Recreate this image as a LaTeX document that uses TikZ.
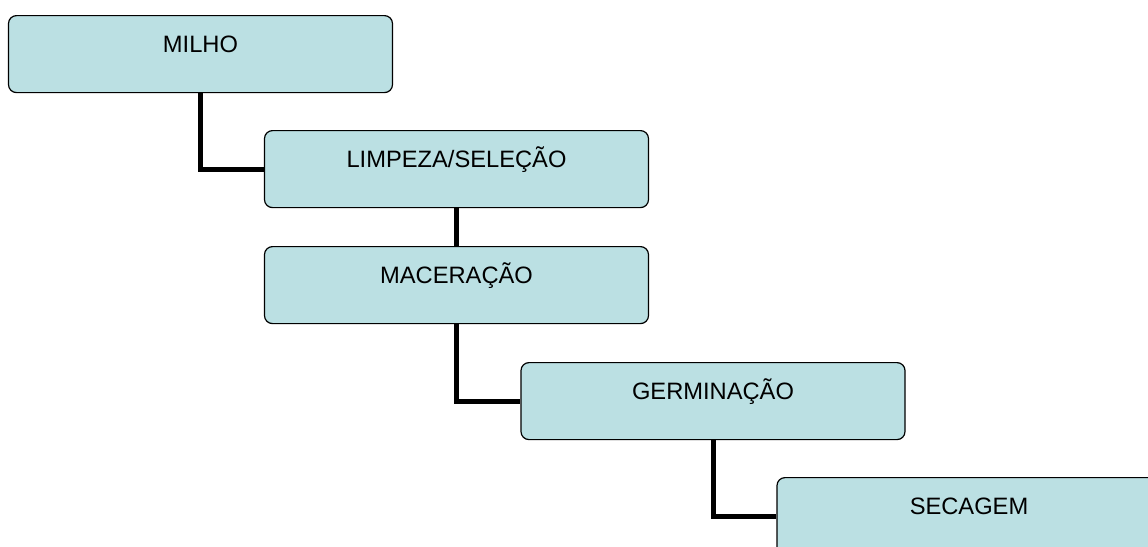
\documentclass[tikz,border=0pt]{standalone}
\usepackage{fontspec}
\setmainfont{Liberation Sans}
\definecolor{boxfill}{RGB}{187,224,227}
\begin{document}
\begin{tikzpicture}[x=1pt,y=-1pt,
  stepbox/.style={draw=black, line width=1.2pt, fill=boxfill, rounded corners=8pt,
    anchor=north, minimum width=384pt, inner sep=0pt, text height=37pt, text depth=40pt,
    font=\fontsize{23.7}{28}\selectfont},
  conn/.style={line width=5pt, line join=miter}]
\useasboundingbox (0,0) rectangle (1148,546);
\begin{scope}
\clip (0,0) rectangle (1148,546);
\node[stepbox] (milho) at (200.5,15) {MILHO};
\node[stepbox] (limpeza) at (456.5,130) {LIMPEZA/SELEÇÃO};
\node[stepbox] (maceracao) at (456.5,246) {MACERAÇÃO};
\node[stepbox] (germinacao) at (713,362) {GERMINAÇÃO};
\node[stepbox] (secagem) at (969,477) {SECAGEM};
\draw[conn] (milho.south) |- (limpeza.west);
\draw[conn] (limpeza.south) -- (maceracao.north);
\draw[conn] (maceracao.south) |- (germinacao.west);
\draw[conn] (germinacao.south) |- (secagem.west);
\end{scope}
\end{tikzpicture}
\end{document}
